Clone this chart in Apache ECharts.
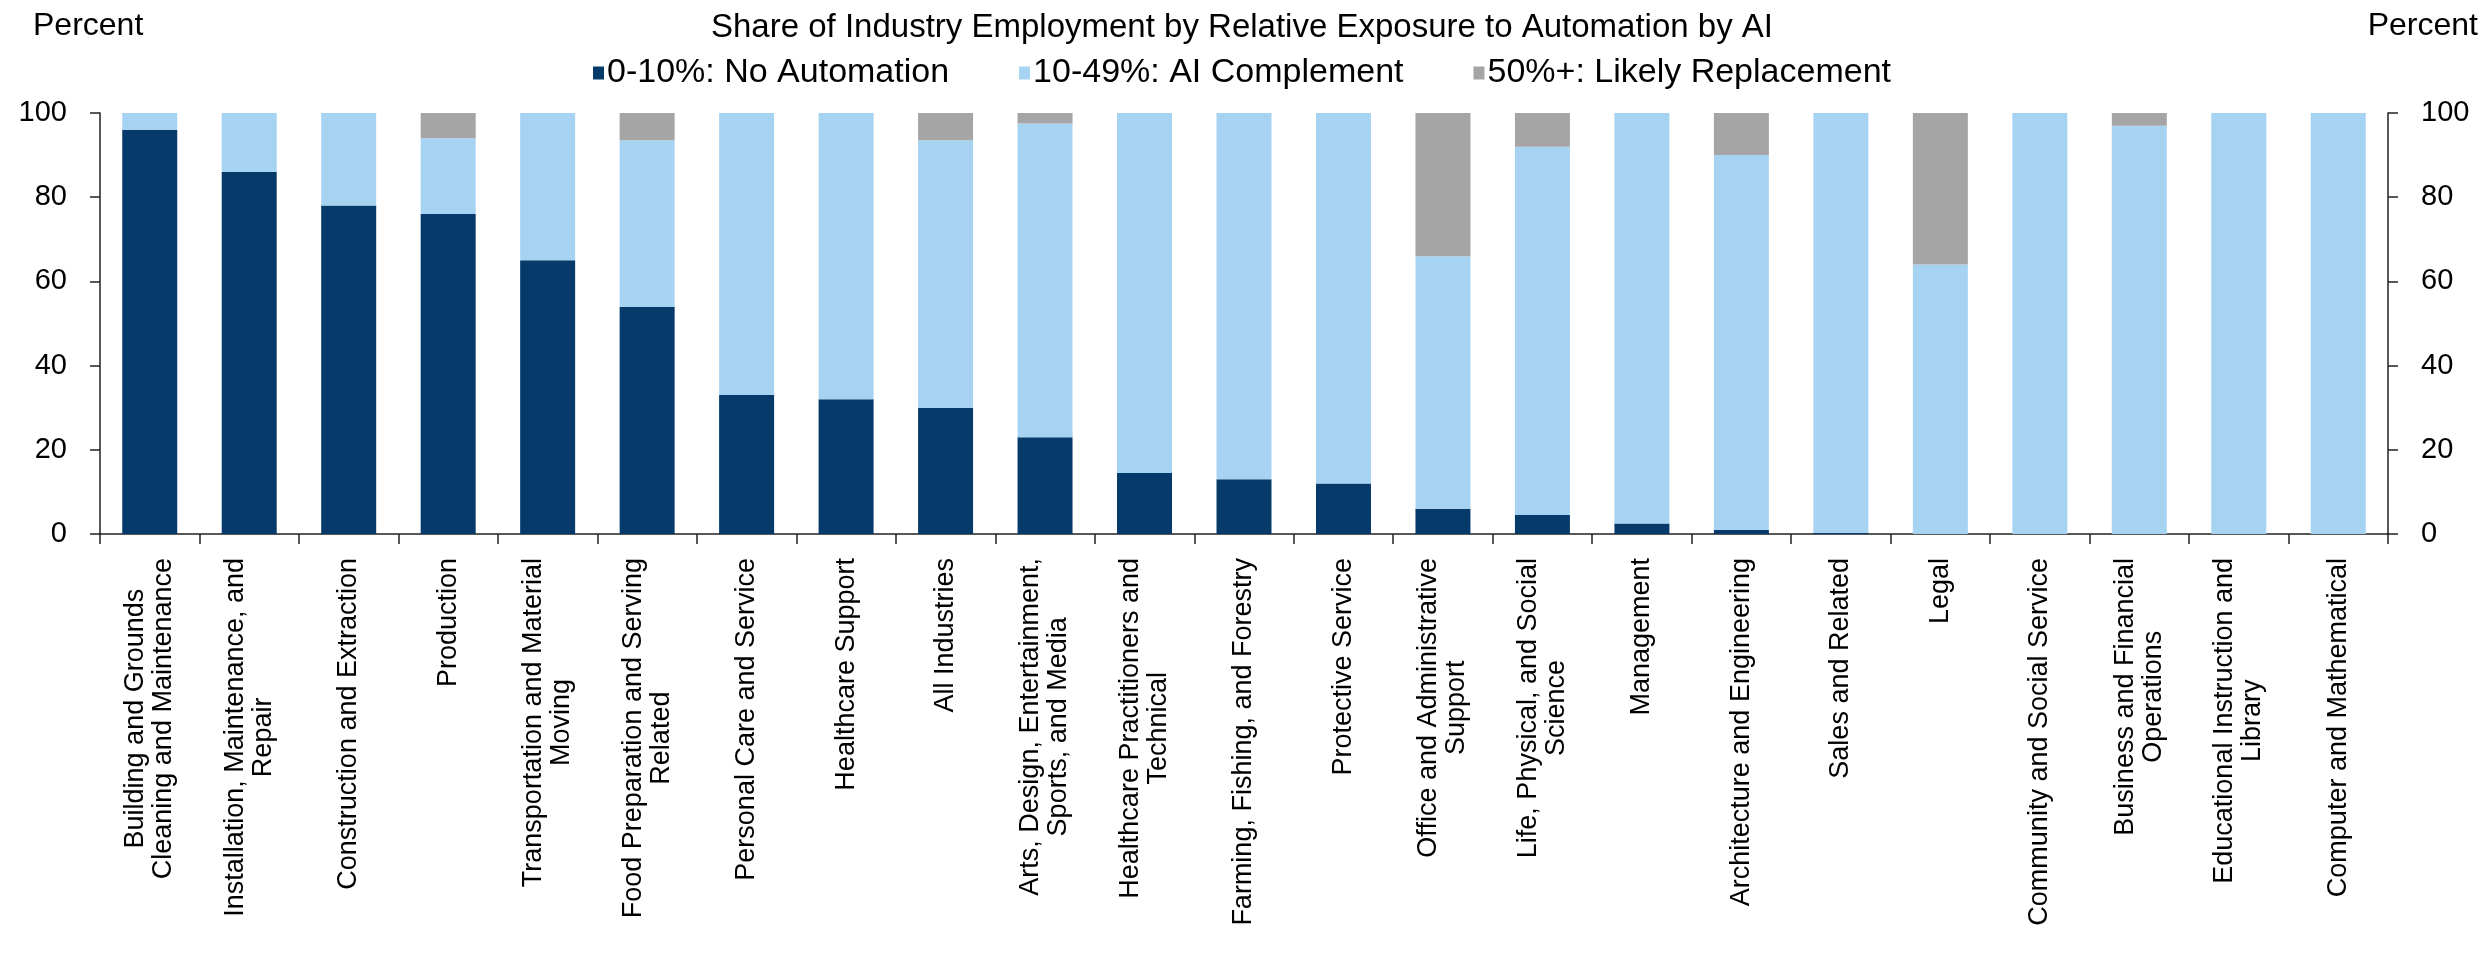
<!DOCTYPE html>
<html lang="en">
<head>
<meta charset="UTF-8">
<title>Share of Industry Employment by Relative Exposure to Automation by AI</title>
<script src="https://cdn.jsdelivr.net/npm/echarts@6.0.0/dist/echarts.min.js"></script>
<style>
    body { margin: 0; padding: 0; background: #ffffff; }
    #chart { width: 2484px; height: 973px; }
</style>
</head>
<body>
<div id="chart"></div>
<script>
  // categories, left to right
  var categories = [
    'Building and Grounds\nCleaning and Maintenance',
    'Installation, Maintenance, and\nRepair',
    'Construction and Extraction',
    'Production',
    'Transportation and Material\nMoving',
    'Food Preparation and Serving\nRelated',
    'Personal Care and Service',
    'Healthcare Support',
    'All Industries',
    'Arts, Design, Entertainment,\nSports, and Media',
    'Healthcare Practitioners and\nTechnical',
    'Farming, Fishing, and Forestry',
    'Protective Service',
    'Office and Administrative\nSupport',
    'Life, Physical, and Social\nScience',
    'Management',
    'Architecture and Engineering',
    'Sales and Related',
    'Legal',
    'Community and Social Service',
    'Business and Financial\nOperations',
    'Educational Instruction and\nLibrary',
    'Computer and Mathematical'
  ];

  // percent of employment in each exposure band
  var noAutomation = [96, 86, 78, 76, 65, 54, 33, 32, 30, 23, 14.5, 13, 12, 6, 4.5, 2.5, 1, 0.3, 0, 0, 0, 0, 0];
  var aiComplement = [4, 14, 22, 18, 35, 39.5, 67, 68, 63.5, 74.5, 85.5, 87, 88, 60, 87.5, 97.5, 89, 99.7, 64, 100, 97, 100, 100];
  var likelyReplacement = [0, 0, 0, 6, 0, 6.5, 0, 0, 6.5, 2.5, 0, 0, 0, 34, 8, 0, 10, 0, 36, 0, 3, 0, 0];

  var seriesNames = ['0-10%: No Automation', '10-49%: AI Complement', '50%+: Likely Replacement'];
  var yTicks = [0, 20, 40, 60, 80, 100];

  var FONT = '"Liberation Sans", Arial, Helvetica, sans-serif';

  var myChart = echarts.init(document.getElementById('chart'));

  function yAxisCfg(pos) {
    return {
      type: 'value',
      position: pos,
      min: yTicks[0],
      max: yTicks[yTicks.length - 1],
      interval: yTicks[1] - yTicks[0],
      axisLine: { show: true, lineStyle: { color: '#222', width: 1.5 } },
      axisTick: { show: true, inside: false, length: 10, lineStyle: { color: '#222', width: 1.5 } },
      splitLine: { show: false },
      axisLabel: { fontSize: 29, color: '#000', fontFamily: FONT, margin: 33 }
    };
  }

  var option = {
    backgroundColor: '#ffffff',
    animation: false,
    color: ['#063a6b', '#a7d3f3', '#a5a5a5'],
    title: [
      {
        text: 'Share of Industry Employment by Relative Exposure to Automation by AI',
        left: 'center',
        top: 11,
        padding: 0,
        textStyle: { fontSize: 33, fontWeight: 'normal', color: '#000', fontFamily: FONT }
      },
      {
        text: 'Percent',
        left: 33,
        top: 10,
        padding: 0,
        textStyle: { fontSize: 32, fontWeight: 'normal', color: '#000', fontFamily: FONT }
      },
      {
        text: 'Percent',
        right: 6,
        top: 10,
        padding: 0,
        textStyle: { fontSize: 32, fontWeight: 'normal', color: '#000', fontFamily: FONT }
      }
    ],
    legend: {
      data: seriesNames,
      left: 'center',
      top: 56,
      padding: 0,
      icon: 'rect',
      itemWidth: 11,
      itemHeight: 13,
      itemGap: 70,
      textStyle: { fontSize: 34, color: '#000', fontFamily: FONT, padding: [0, 0, 0, -2] }
    },
    grid: {
      left: 100,
      right: 96,
      top: 113,
      bottom: 439
    },
    xAxis: {
      type: 'category',
      data: categories,
      axisLine: { show: true, lineStyle: { color: '#222', width: 1.5 } },
      axisTick: { show: true, length: 10, lineStyle: { color: '#222', width: 1.5 } },
      axisLabel: {
        interval: 0,
        rotate: 90,
        margin: 24,
        color: '#000',
        fontSize: 27,
        fontFamily: FONT,
        formatter: function (v) {
          // each line centred within the label block
          return v.split('\n').map(function (s) { return '{c|' + s + '}'; }).join('\n');
        },
        rich: {
          c: { align: 'center', fontSize: 27, lineHeight: 28, color: '#000', fontFamily: FONT }
        }
      }
    },
    yAxis: [yAxisCfg('left'), yAxisCfg('right')],
    series: [
      { name: seriesNames[0], type: 'bar', stack: 'share', barWidth: 55, data: noAutomation },
      { name: seriesNames[1], type: 'bar', stack: 'share', barWidth: 55, data: aiComplement },
      { name: seriesNames[2], type: 'bar', stack: 'share', barWidth: 55, data: likelyReplacement }
    ]
  };

  myChart.setOption(option);
</script>
</body>
</html>
